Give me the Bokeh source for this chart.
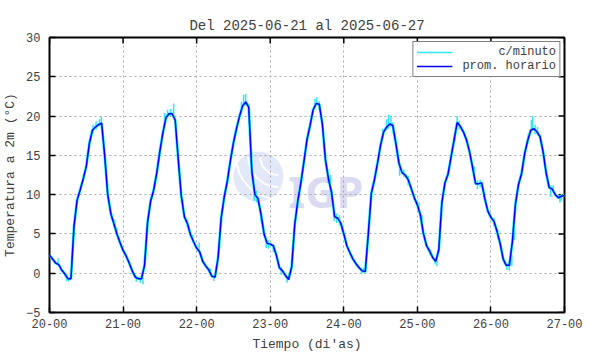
from bokeh.plotting import figure
from bokeh.models import FixedTicker, Legend, LegendItem, Range1d
from bokeh.core.properties import value
from bokeh.embed import file_html
from bokeh.resources import INLINE

# ---------------- data ----------------
title_text = "Del 2025-06-21 al 2025-06-27"
x_label = "Tiempo (di'as)"
y_label = "Temperatura a 2m (°C)"
legend_labels = ["c/minuto", "prom. horario"]
day_ticks = [20, 21, 22, 23, 24, 25, 26, 27]
day_tick_labels = ["20-00", "21-00", "22-00", "23-00", "24-00", "25-00", "26-00", "27-00"]
temp_ticks = [-5, 0, 5, 10, 15, 20, 25, 30]

# hourly mean temperature (prom. horario), 24 values per day, hours 00..23
day20 = [2.3, 1.8, 1.3, 1.1, 0.4, -0.1, -0.7, -0.7, 6.0, 9.3, 10.6, 12.0,
         13.6, 16.5, 18.2, 18.6, 18.9, 19.1, 15.0, 10.0, 7.6, 6.3, 5.0, 3.9]
day21 = [2.9, 2.2, 1.3, 0.3, -0.5, -0.7, -0.7, 1.0, 6.5, 9.2, 10.6, 12.8,
         15.5, 17.9, 19.8, 20.3, 20.3, 19.5, 14.5, 9.8, 7.2, 6.3, 4.9, 4.0]
day22 = [3.2, 2.7, 1.5, 0.9, 0.4, -0.4, -0.5, 2.0, 7.0, 9.7, 11.7, 14.3,
         16.6, 18.4, 20.0, 21.3, 21.8, 21.1, 13.0, 10.0, 9.5, 7.5, 5.0, 3.8]
day23 = [3.7, 3.5, 2.3, 0.7, 0.3, -0.3, -0.8, 0.8, 6.2, 9.2, 11.5, 14.2,
         17.0, 18.8, 20.8, 21.6, 21.5, 19.0, 14.5, 12.0, 10.3, 7.2, 7.0, 6.4]
day24 = [5.0, 3.5, 2.6, 1.8, 1.2, 0.7, 0.3, 0.2, 5.0, 10.2, 11.9, 14.0,
         16.3, 18.0, 18.6, 19.0, 18.8, 16.5, 14.0, 12.8, 12.5, 11.9, 10.8, 9.6]
day25 = [8.7, 7.4, 5.0, 3.5, 2.8, 2.0, 1.5, 3.0, 9.0, 11.5, 12.6, 14.8,
         17.0, 19.2, 18.7, 18.0, 17.0, 15.5, 13.5, 11.4, 11.4, 11.5, 9.5, 7.9]
day26 = [7.1, 6.6, 5.3, 3.8, 1.8, 1.0, 1.0, 4.0, 8.8, 11.3, 12.7, 15.2,
         16.9, 18.2, 18.4, 18.0, 17.4, 15.5, 12.8, 10.9, 10.7, 10.0, 9.6, 9.8]
day27_first = [9.9]

# visible per-minute excursions (c/minuto): day, hour, low, high
spike_day = [20, 20, 20, 20, 20, 20, 20, 20, 20, 20, 20,
             21, 21, 21, 21, 21, 21, 21, 21, 21, 21,
             22, 22, 22, 22, 22, 22, 22, 22, 22, 22, 22, 22,
             23, 23, 23, 23, 23, 23, 23, 23, 23, 23, 23, 23,
             24, 24, 24, 24, 24, 24, 24, 24, 24, 24,
             25, 25, 25, 25, 25, 25, 25, 25, 25, 25, 25,
             26, 26, 26, 26, 26, 26, 26, 26, 26, 26, 26, 26, 26, 26, 26]
spike_hour = [2.8, 5.6, 6.2, 12.8, 14.2, 15.2, 16.3, 16.9, 19.9, 21.3, 22.0,
              4.3, 5.6, 6.5, 13.5, 14.5, 15.5, 16.5, 19.5, 21.0, 22.7,
              4.5, 5.6, 14.6, 15.3, 16.0, 17.0, 18.8, 19.6, 21.0, 22.7, 23.4, 0.8,
              3.6, 5.5, 6.0, 14.6, 15.2, 16.0, 18.8, 19.6, 20.8, 21.7, 22.6, 1.0,
              5.8, 6.4, 12.7, 14.0, 14.6, 15.4, 16.0, 18.2, 19.6, 21.0,
              4.3, 5.8, 6.4, 12.3, 13.0, 13.6, 18.6, 19.6, 20.5, 0.5, 1.5,
              5.2, 6.0, 6.8, 7.6, 12.2, 13.2, 13.6, 14.4, 15.2, 19.5, 20.3, 22.5, 23.0, 1.0, 2.2]
spike_lo = [1.0, -1.0, -1.1, 15.5, 17.8, 18.3, 18.7, 18.8, 7.5, 5.5, 4.6,
            -1.1, -1.2, -1.4, 19.2, 19.8, 20.0, 19.9, 8.3, 5.8, 4.2,
            -0.3, -1.0, 20.3, 21.2, 21.3, 20.0, 9.2, 9.0, 6.6, 3.2, 3.1, 3.0,
            -0.2, -1.2, -0.9, 21.0, 21.4, 20.8, 11.5, 10.8, 6.6, 6.4, 6.1, 2.7,
            -0.1, 0.0, 17.2, 18.2, 18.4, 18.6, 17.8, 12.4, 12.2, 11.2,
            2.2, 1.1, 0.9, 16.8, 18.6, 18.3, 12.5, 10.7, 10.9, 7.8, 6.0,
            0.4, 0.3, 0.9, 4.2, 16.6, 18.0, 18.2, 17.7, 17.6, 9.7, 10.2, 9.0, 9.2, 6.0, 4.4]
spike_hi = [1.9, -0.2, -0.5, 16.8, 18.9, 19.3, 19.6, 19.9, 8.5, 6.8, 5.8,
            -0.3, -0.4, -0.5, 20.4, 20.8, 20.9, 21.6, 9.4, 6.8, 4.9,
            0.6, -0.3, 21.8, 22.7, 22.8, 21.6, 10.8, 10.5, 8.0, 4.4, 4.2, 3.9,
            0.8, -0.5, 0.0, 22.2, 22.4, 21.9, 13.2, 12.5, 7.8, 7.6, 7.4, 3.6,
            0.6, 0.7, 18.4, 19.6, 20.2, 20.0, 19.2, 13.6, 13.2, 12.4,
            3.0, 1.8, 1.7, 18.0, 20.0, 19.4, 13.6, 11.8, 11.9, 9.0, 7.4,
            1.3, 1.5, 2.3, 7.3, 17.8, 19.5, 20.0, 18.9, 18.6, 11.2, 11.2, 9.9, 10.1, 7.0, 5.6]

# ---------------- build ----------------
hourly = day20 + day21 + day22 + day23 + day24 + day25 + day26 + day27_first
t_hours = [day_ticks[0] + i / 24.0 for i in range(len(hourly))]
spike_x = [d + h / 24.0 for d, h in zip(spike_day, spike_hour)]

FONT = "Liberation Mono"
TXT = "#404040"
CYAN = "#2ee8f2"

p = figure(width=590, height=354, output_backend="svg", toolbar_location=None,
           x_range=Range1d(day_ticks[0], day_ticks[-1]),
           y_range=Range1d(temp_ticks[0], temp_ticks[-1]),
           min_border_left=45, min_border_right=26, min_border_top=37, min_border_bottom=40,
           background_fill_color="white", border_fill_color="white")

p.title.text = title_text
p.title.text_font = FONT
p.title.text_font_size = "14px"
p.title.text_font_style = "normal"
p.title.text_color = TXT
p.title.align = "center"
p.title.standoff = 8

p.outline_line_color = "black"
p.outline_line_width = 2
p.outline_line_alpha = 1

# axes
xa = p.xaxis[0]
xa.ticker = FixedTicker(ticks=day_ticks)
xa.major_label_overrides = {d: lab for d, lab in zip(day_ticks, day_tick_labels)}
ya = p.yaxis[0]
ya.ticker = FixedTicker(ticks=temp_ticks)
xa.axis_label = x_label
ya.axis_label = y_label
for ax in (xa, ya):
    ax.axis_line_color = None
    ax.major_tick_in = 6
    ax.major_tick_out = 0
    ax.minor_tick_line_color = None
    ax.major_tick_line_color = "black"
    ax.major_tick_line_width = 1.5
    ax.major_label_text_font = FONT
    ax.major_label_text_font_size = "12px"
    ax.major_label_text_color = TXT
    ax.axis_label_text_font = FONT
    ax.axis_label_text_font_size = "13px"
    ax.axis_label_text_font_style = "normal"
    ax.axis_label_text_color = TXT
xa.major_label_standoff = 6
xa.axis_label_standoff = 6
ya.major_label_standoff = 9
ya.axis_label_standoff = 5

# mirrored inward ticks on top and right edges
p.scatter(x=day_ticks, y=[temp_ticks[-1]] * len(day_ticks), marker="dash", size=12,
          angle=1.5708, line_color="black", line_width=1.5)
p.scatter(x=[day_ticks[-1]] * len(temp_ticks), y=temp_ticks, marker="dash", size=12,
          line_color="black", line_width=1.5)

p.xgrid.ticker = FixedTicker(ticks=day_ticks)
p.ygrid.ticker = FixedTicker(ticks=temp_ticks)
for g in (p.xgrid[0], p.ygrid[0]):
    g.grid_line_color = "#a8a8a8"
    g.grid_line_dash = "2 3"
    g.grid_line_width = 1

# watermark (IGP logo)
p.circle(x=[22.84], y=[12.3], radius=25, radius_units="screen",
         fill_color="#e2e8f8", line_color=None, level="underlay")
p.arc(x=[23.11] * 3, y=[14.8] * 3, radius=[18, 30, 42], radius_units="screen",
      start_angle=3.1416, end_angle=4.712, line_color="white", line_width=2, level="underlay")
p.text(x=[23.25], y=[10.4], text=["IGP"], text_font=value("Noto Sans"),
       text_font_size="43px", text_font_style="bold", text_color="#dadaf0",
       text_baseline="alphabetic", level="underlay")

# data
halo = p.line(t_hours, hourly, line_color=CYAN, line_width=2.8)
spikes = p.segment(x0=spike_x, y0=spike_lo, x1=spike_x, y1=spike_hi,
                   line_color=CYAN, line_width=1.5)
main = p.line(t_hours, hourly, line_color="#0000ff", line_width=1.5)

pad = max(len(s) for s in legend_labels)
legend = Legend(items=[LegendItem(label=legend_labels[0].rjust(pad, "\u00a0"), renderers=[spikes]),
                       LegendItem(label=legend_labels[1].rjust(pad, "\u00a0"), renderers=[main])],
                location="top_right", margin=4, padding=3, spacing=0,
                glyph_width=36, glyph_height=12, label_height=12, label_standoff=10,
                label_text_font=FONT, label_text_font_size="12px", label_text_color=TXT,
                border_line_color="black", border_line_width=1,
                background_fill_color="white", background_fill_alpha=1)
p.add_layout(legend)

open("out.html", "w").write(file_html(p, INLINE))
